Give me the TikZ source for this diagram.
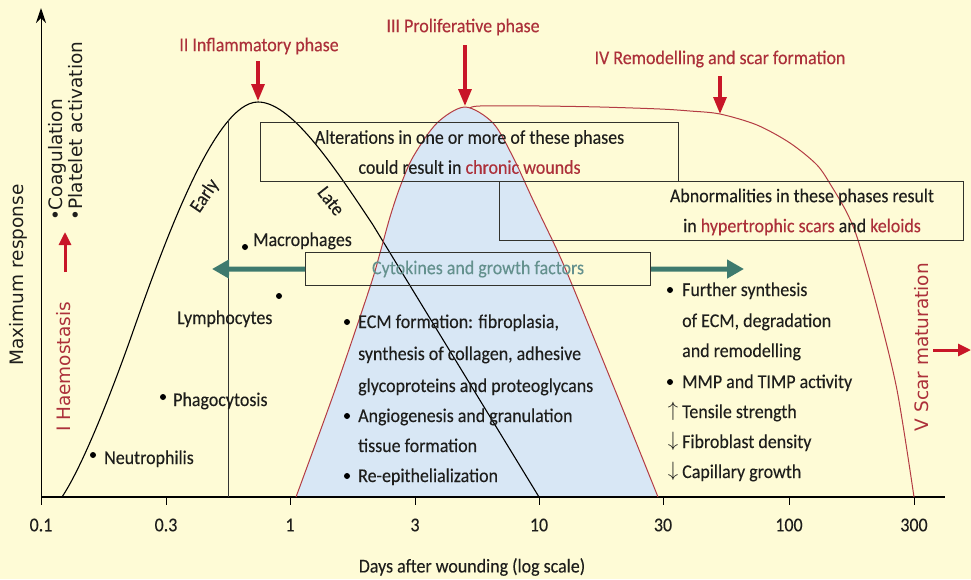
\documentclass[tikz,border=0pt]{standalone}
\usepackage{fontspec}
\setmainfont{Carlito}[FakeStretch=0.92, FakeBold=0.2]
\newfontfamily\axfont{DejaVu Sans}
\usetikzlibrary{arrows.meta}
\definecolor{bg}{RGB}{254,251,214}
\definecolor{fillblue}{RGB}{216,231,245}
\definecolor{redtxt}{RGB}{172,48,58}
\definecolor{redarr}{RGB}{200,22,40}
\definecolor{redline}{RGB}{180,60,68}
\definecolor{tealarr}{RGB}{62,122,110}
\definecolor{tealtxt}{RGB}{100,145,142}
\definecolor{boxline}{RGB}{50,50,45}
\definecolor{txt}{RGB}{30,30,28}
\begin{document}
\begin{tikzpicture}[x=1pt,y=-1pt,
  lbl/.style={font=\fontsize{19.5}{22}\selectfont, inner sep=0pt, text=txt},
  lw/.style={lbl, anchor=base west},
  redlbl/.style={lbl, text=redtxt},
  axlbl/.style={font=\axfont\fontsize{18.5}{20}\selectfont, inner sep=0pt, rotate=90, text=txt},
  bigred/.style={draw=redarr, line width=3.2pt, -{Triangle[length=17pt,width=13pt]}},
  smallred/.style={draw=redarr, line width=3pt, -{Triangle[length=13pt,width=12pt]}},
  tealarrow/.style={draw=tealarr, line width=5pt, -{Triangle[length=17pt,width=18pt]}},
  infobox/.style={draw=boxline, line width=1.1pt, inner sep=0pt, anchor=north west},
  dot/.style={fill=black},
  tick/.style={line width=0.9pt}
]
\fill[bg] (0,0) rectangle (971,579);
\useasboundingbox (0,0) rectangle (971,579);

% proliferative fill
\def\prolif{(296,497) (335,390) (370,287) (380,253) (390,217) (400,187) (413,157) (437,123) (465,107) (493,123) (513,157) (533,200) (557,250) (573,287) (615,390) (658,497)}
\fill[fillblue] plot[smooth, tension=0.5] coordinates {\prolif} -- cycle;

% axes
\coordinate (O) at (41,497);
\coordinate (ytop) at (41,8);
\coordinate (xend) at (945,497);
\draw[line width=1pt, -{Stealth[length=15pt,width=10pt]}] (O) -- (ytop);
\draw[line width=1.2pt] (O) -- (xend);
\foreach \x/\t/\n in {41/0.1/a,166/0.3/b,290/1/c,415/3/d,539/10/e,663/30/f,789/100/g,914/300/h}{
  \draw[tick] (\x,497) -- (\x,505);
  \node[lbl] (tk\n) at (\x,525) {\t};
}
\node[lbl] (xtitle) at (472,567) {Days after wounding (log scale)};
\node[axlbl] (ytitle) at (18,275) {Maximum response};

% inflammatory curve
\draw[line width=1.1pt] (62,497) .. controls (80,470) and (105,410) .. (130,340)
  .. controls (165,240) and (215,102) .. (258,102)
  .. controls (290,102) and (330,160) .. (373,225) -- (539,497);
\coordinate (earlytop) at (228,120);
\coordinate (earlybot) at (228,497);
\draw[line width=1pt, draw=black!80] (earlytop) -- (earlybot);

% proliferative curve
\draw[draw=redline, line width=1pt] plot[smooth, tension=0.5] coordinates {\prolif};
% remodelling curve
\draw[draw=redline, line width=1pt] plot[smooth, tension=0.5] coordinates {(470,108) (480,106) (540,106) (600,107) (660,109) (690,111) (720,114) (757,125) (790,143) (817,165) (832,187) (847,213) (858,240) (877,307) (897,390) (914,497)};

% boxes
\node[infobox, minimum width=418pt, minimum height=59pt, align=center, font=\fontsize{19.5}{30}\selectfont, text=txt] (box1) at (260,122) {Alterations in one or more of these phases\\could result in \textcolor{redtxt}{chronic wounds}};
\node[infobox, minimum width=464pt, minimum height=59pt] (box2) at (499,181) {};
\node[lbl, align=center, font=\fontsize{19.5}{30}\selectfont] (box2txt) at (802,212) {Abnormalities in these phases result\\in \textcolor{redtxt}{hypertrophic scars} and \textcolor{redtxt}{keloids}};
\node[infobox, minimum width=345pt, minimum height=33pt, text=tealtxt, font=\fontsize{19.5}{22}\selectfont] (box3) at (305,252) {Cytokines and growth factors};
\coordinate (tl) at (212,269);
\coordinate (tr) at (744,269);
\draw[tealarrow] (box3.west) -- (tl);
\draw[tealarrow] (box3.east) -- (tr);

% phase labels and arrows
\node[redlbl] (ph2) at (259,46) {II Inflammatory phase};
\node[redlbl] (ph3) at (463,27) {III Proliferative phase};
\node[redlbl] (ph4) at (720,59) {IV Remodelling and scar formation};
\coordinate (a2s) at (258,61); \coordinate (a2e) at (258,101);
\coordinate (a3s) at (465,45); \coordinate (a3e) at (465,106);
\coordinate (a4s) at (720,76); \coordinate (a4e) at (720,114);
\draw[bigred] (a2s) -- (a2e);
\draw[bigred] (a3s) -- (a3e);
\draw[bigred] (a4s) -- (a4e);

% haemostasis
\node[axlbl] (coag) at (57,160) {•Coagulation};
\node[axlbl] (plat) at (76,131) {•Platelet activation};
\node[axlbl, text=redtxt] (haem) at (64,367) {I Haemostasis};
\coordinate (h1) at (65,272); \coordinate (h2) at (65,232);
\draw[smallred] (h1) -- (h2);

% scar maturation
\node[axlbl, text=redtxt] (scar) at (922,347) {V Scar maturation};
\coordinate (s1) at (933,350); \coordinate (s2) at (971,350);
\draw[smallred] (s1) -- (s2);

% early / late
\node[lbl, rotate=56] (early) at (205,196) {Early};
\node[lbl, rotate=-52] (late) at (331,201) {Late};

% inflammatory cells
\fill[dot] (245,247) circle (3pt);
\node[lw] (macro) at (253,246) {Macrophages};
\fill[dot] (279,296) circle (3pt);
\node[lw] (lymph) at (177,324) {Lymphocytes};
\fill[dot] (163,397) circle (3pt);
\node[lw] (phago) at (173,406) {Phagocytosis};
\fill[dot] (93,455) circle (3pt);
\node[lw] (neutro) at (104,464) {Neutrophilis};

% proliferative text
\fill[dot] (347,322) circle (3pt);
\node[lw] (p1) at (358,328) {ECM formation: fibroplasia,};
\node[lw] (p2) at (358,360) {synthesis of collagen, adhesive};
\node[lw] (p3) at (358,392) {glycoproteins and proteoglycans};
\fill[dot] (347,416) circle (3pt);
\node[lw] (p4) at (358,422) {Angiogenesis and granulation};
\node[lw] (p5) at (358,452) {tissue formation};
\fill[dot] (347,476) circle (3pt);
\node[lw] (p6) at (358,482) {Re-epithelialization};

% remodelling text
\fill[dot] (670,290) circle (3pt);
\node[lw] (r1) at (682,296) {Further synthesis};
\node[lw] (r2) at (682,327) {of ECM, degradation};
\node[lw] (r3) at (682,357) {and remodelling};
\fill[dot] (670,382) circle (3pt);
\node[lw] (r4) at (682,388) {MMP and TIMP activity};
\node[lbl] (up1) at (673,411) {$\uparrow$};
\node[lw] (r5) at (682,418) {Tensile strength};
\node[lbl] (dn1) at (673,441) {$\downarrow$};
\node[lw] (r6) at (682,448) {Fibroblast density};
\node[lbl] (dn2) at (673,471) {$\downarrow$};
\node[lw] (r7) at (682,478) {Capillary growth};
\end{tikzpicture}
\end{document}
